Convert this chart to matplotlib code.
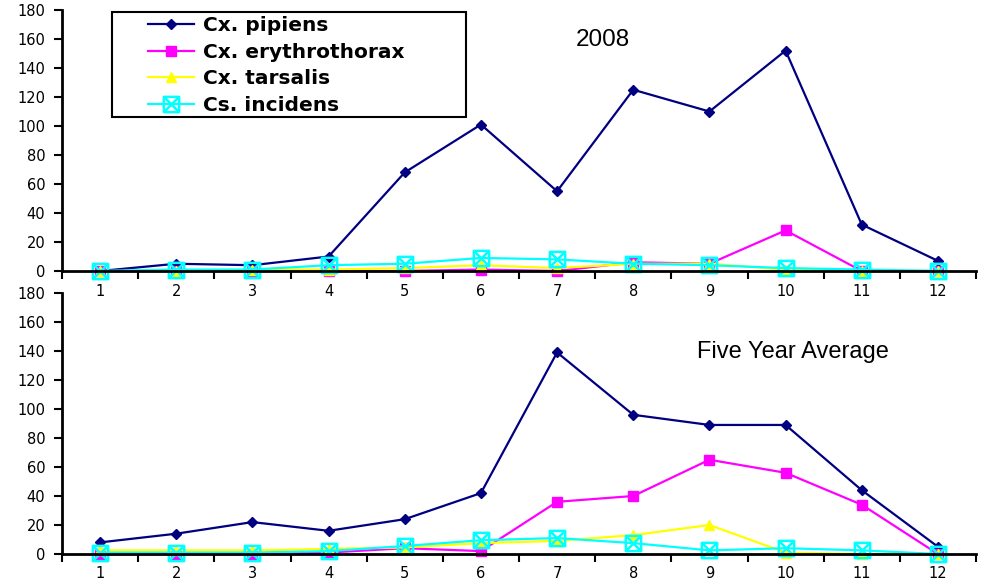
import matplotlib
matplotlib.use("Agg")
import matplotlib.pyplot as plt
from matplotlib.path import Path
from matplotlib.patches import Rectangle

plt.rcParams['font.family'] = ['DejaVu Sans']

months = [1, 2, 3, 4, 5, 6, 7, 8, 9, 10, 11, 12]
series_names = ["Cx. pipiens", "Cx. erythrothorax", "Cx. tarsalis", "Cs. incidens"]

pipiens_2008 = [0, 5, 4, 10, 68, 101, 55, 125, 110, 152, 32, 7]
erythro_2008 = [0, 0, 0, 0, 0, 1, 0, 6, 5, 28, 0, 0]
tarsalis_2008 = [0, 0, 1, 1, 2, 4, 2, 5, 5, 1, 0, 0]
incidens_2008 = [0, 1, 1, 4, 5, 9, 8, 5, 4, 2, 1, 0]

pipiens_avg = [8, 14, 22, 16, 24, 42, 139, 96, 89, 89, 44, 5]
erythro_avg = [0, 0, 0, 1, 4, 2, 36, 40, 65, 56, 34, 0]
tarsalis_avg = [2.5, 2.5, 2.5, 3.5, 4.5, 7.5, 9, 13, 20, 1, 0, 0]
incidens_avg = [1, 1, 1, 2, 5.5, 9.5, 11, 7.5, 2.5, 4, 2.5, 0]

yticks = [0, 20, 40, 60, 80, 100, 120, 140, 160, 180]

# Square with a diagonal cross inside
box_x = Path(
    [(-1, -1), (1, -1), (1, 1), (-1, 1), (-1, -1),
     (-1, -1), (1, 1), (-1, 1), (1, -1)],
    [Path.MOVETO, Path.LINETO, Path.LINETO, Path.LINETO, Path.CLOSEPOLY,
     Path.MOVETO, Path.LINETO, Path.MOVETO, Path.LINETO])

styles = [
    dict(color="#000080", marker="D", markersize=5.5, mfc="#000080", mec="#000080"),
    dict(color="#FF00FF", marker="s", markersize=7, mfc="#FF00FF", mec="#FF00FF"),
    dict(color="#FFFF00", marker="^", markersize=7, mfc="#FFFF00", mec="#FFFF00"),
    dict(color="#00FFFF", marker=box_x, markersize=11, mfc="none", mec="#00FFFF", mew=1.8),
]

W, H = 988, 586
fig = plt.figure(figsize=(W / 100, H / 100), dpi=100)
ax_top = fig.add_axes([62 / W, 1 - 271 / H, 914 / W, 261 / H])
ax_bot = fig.add_axes([62 / W, 1 - 554 / H, 914 / W, 261 / H])


def draw(ax, data):
    handles = []
    for name, vals, st in zip(series_names, data, styles):
        h, = ax.plot(months, vals, lw=1.6, label=name, clip_on=False, **st)
        handles.append(h)
    ax.set_xlim(0.5, 12.5)
    ax.set_ylim(0, 180)
    ax.set_yticks(yticks)
    ax.set_xticks(months)
    ax.set_xticks([m + 0.5 for m in [0] + months], minor=True)
    ax.tick_params(axis="x", which="major", length=0, pad=9, labelsize=10.5)
    ax.tick_params(axis="x", which="minor", length=6, width=1.5, direction="out")
    ax.tick_params(axis="y", length=6, width=1.5, direction="out", labelsize=10.5, pad=6)
    for s in ("top", "right"):
        ax.spines[s].set_visible(False)
    for s in ("left", "bottom"):
        ax.spines[s].set_linewidth(2)
        ax.spines[s].set_color("black")
    ax.patch.set_alpha(0)
    return handles


handles = draw(ax_top, [pipiens_2008, erythro_2008, tarsalis_2008, incidens_2008])
draw(ax_bot, [pipiens_avg, erythro_avg, tarsalis_avg, incidens_avg])

fig.text(603 / W, 1 - 40 / H, "2008", ha="center", va="center",
         fontsize=17.5, family=["Liberation Sans", "DejaVu Sans"])
fig.text(793 / W, 1 - 352 / H, "Five Year Average", ha="center", va="center",
         fontsize=17, family=["Liberation Sans", "DejaVu Sans"])

# Legend box
fig.patches.append(Rectangle((112 / W, 1 - 117 / H), 354 / W, 105 / H,
                             transform=fig.transFigure, facecolor="white",
                             edgecolor="black", linewidth=1.5, zorder=5))
leg = fig.legend(handles=handles, loc="upper left",
                 bbox_to_anchor=(148 / W, 1 - 16 / H),
                 prop=dict(weight="bold", size=14.5), frameon=False,
                 handlelength=2.3, borderpad=0, borderaxespad=0,
                 labelspacing=0.38, handletextpad=0.45)
leg.set_zorder(6)

fig.savefig("out.png", dpi=100)
